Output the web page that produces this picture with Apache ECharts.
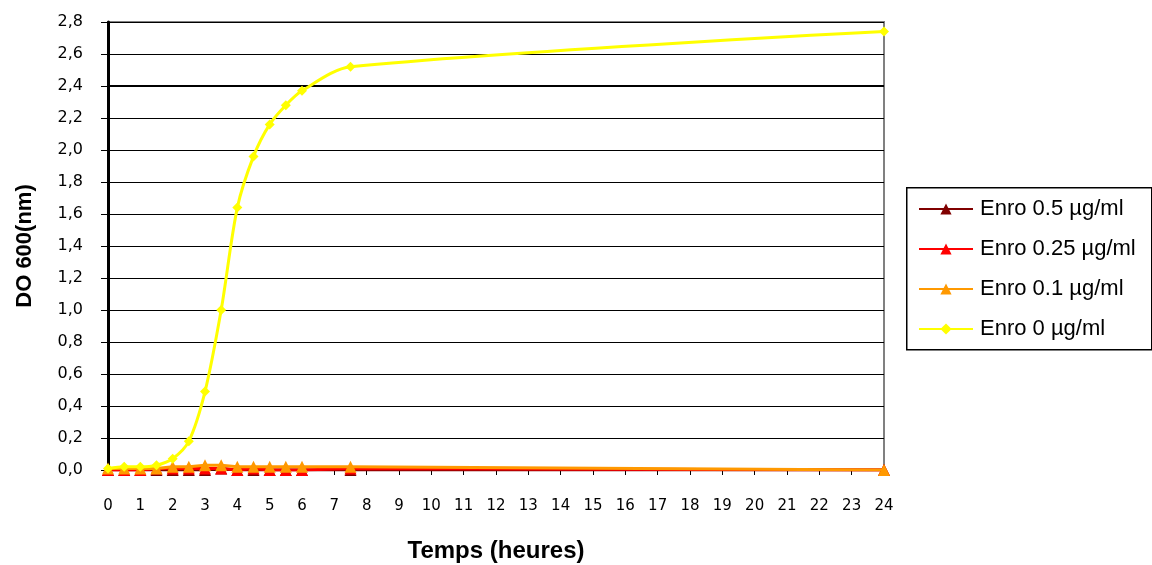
<!DOCTYPE html>
<html><head><meta charset="utf-8">
<script src="https://cdn.jsdelivr.net/npm/echarts@6/dist/echarts.min.js"></script>
<style>html,body{margin:0;padding:0;background:#fff}#c{width:1152px;height:565px}</style>
</head><body><div id="c"></div>
<script>
const times = [0, 0.5, 1, 1.5, 2, 2.5, 3, 3.5, 4, 4.5, 5, 5.5, 6, 7.5, 24];
const seriesNames = ['Enro 0.5 µg/ml', 'Enro 0.25 µg/ml', 'Enro 0.1 µg/ml', 'Enro 0 µg/ml'];
const enro05 = [0.00, 0.00, 0.00, 0.00, 0.00, 0.00, 0.00, 0.01, 0.00, 0.00, 0.00, 0.00, 0.00, 0.00, 0.00];
const enro025 = [0.00, 0.00, 0.00, 0.01, 0.01, 0.01, 0.01, 0.01, 0.00, 0.01, 0.00, 0.00, 0.00, 0.01, 0.00];
const enro01 = [0.01, 0.01, 0.01, 0.01, 0.02, 0.02, 0.03, 0.03, 0.02, 0.02, 0.02, 0.02, 0.02, 0.02, 0.00];
const enro0 = [0.01, 0.02, 0.02, 0.03, 0.07, 0.18, 0.49, 1.00, 1.64, 1.96, 2.16, 2.28, 2.37, 2.52, 2.74];
const colors = ['#800000', '#ff0000', '#ff9900', '#ffff00'];
const allValues = [enro05, enro025, enro01, enro0];
const symbols = ['triangle', 'triangle', 'triangle', 'diamond'];

const chart = echarts.init(document.getElementById('c'));
const font = 'Arial, "Liberation Sans", sans-serif';
const tickFont = '"DejaVu Sans", Arial, sans-serif';
chart.setOption({
  animation: false,
  textStyle: { fontFamily: font },
  grid: { left: 108, right: 268, top: 22, bottom: 95, show: true, borderColor: '#808080', borderWidth: 2,
    containLabel: false, outerBoundsMode: 'none' },
  graphic: [{
    type: 'rect', left: 906, top: 187, silent: true,
    shape: { width: 245, height: 162 },
    style: { fill: '#fff', stroke: '#000', lineWidth: 1.5 }, z: 0
  }],
  xAxis: {
    type: 'value', min: 0, max: 24, interval: 1,
    name: 'Temps (heures)', nameLocation: 'middle', nameGap: 69,
    nameTextStyle: { fontSize: 24, fontWeight: 'bold', color: '#000', fontFamily: font },
    axisLine: { show: true, onZero: false, lineStyle: { color: '#000', width: 1 } },
    axisTick: { show: true, inside: false, length: 5, lineStyle: { color: '#000' } },
    axisLabel: { color: '#000', fontSize: 15, margin: 29, fontFamily: tickFont },
    splitLine: { show: false }
  },
  yAxis: {
    type: 'value', min: 0, max: 2.8, interval: 0.2,
    name: 'DO 600(nm)', nameLocation: 'middle', nameGap: 72, nameRotate: 90,
    nameTextStyle: { fontSize: 22, fontWeight: 'bold', color: '#000', fontFamily: font },
    axisLine: { show: true, lineStyle: { color: '#000', width: 3 } },
    axisTick: { show: true, inside: false, length: 7, lineStyle: { color: '#000' } },
    axisLabel: { color: '#000', fontSize: 16, margin: 25, fontFamily: tickFont,
      formatter: v => v.toFixed(1).replace('.', ',') },
    splitLine: { show: true, lineStyle: { color: '#000', width: 1 } }
  },
  legend: {
    orient: 'vertical', left: 918, top: 198, padding: 0,
    itemGap: 18, itemWidth: 54, itemHeight: 14,
    textStyle: { fontSize: 22, color: '#000', fontFamily: font, padding: [0, 0, 0, 2] },
    data: seriesNames, z: 5
  },
  series: allValues.map((vals, i) => ({
    name: seriesNames[i], type: 'line',
    data: times.map((t, j) => [t, vals[j]]),
    smooth: i === 3 ? 0.3 : false,
    symbol: symbols[i], symbolSize: i === 3 ? 10 : 12,
    showSymbol: true,
    lineStyle: { color: colors[i], width: 3 },
    itemStyle: { color: colors[i] },
    z: 2 + i,
    markLine: i === 3 ? {
      silent: true, symbol: ['none', 'none'], label: { show: false },
      lineStyle: { color: '#000', width: 2, type: 'solid' },
      data: [{ yAxis: 2.4 }], z: 1
    } : undefined
  }))
});
</script></body></html>
